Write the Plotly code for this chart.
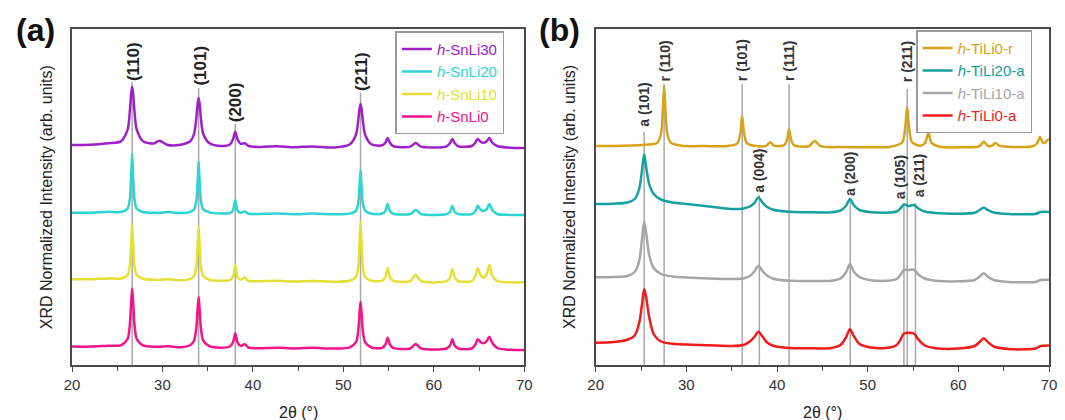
import plotly.graph_objects as go

# ---------------- Panel (a) data ----------------
two_theta_a = [20, 22, 24.0, 25.4, 26.15, 26.4, 26.53, 26.65, 26.77, 26.9, 27.15, 27.85,
               29.0, 29.65, 30.6, 32.0, 33.1, 33.5, 33.75, 33.88, 34.0, 34.12, 34.25, 34.5,
               35.2, 36.5, 37.45, 37.8, 38.05, 38.3, 38.65, 39.1, 39.5, 40.5, 42.7, 44.5,
               46.6, 49.0, 50.7, 51.4, 51.65, 51.78, 51.9, 52.02, 52.15, 52.4, 53.1, 54.3,
               54.65, 54.9, 55.15, 55.5, 57.4, 58.0, 58.6, 61.4, 61.8, 62.05, 62.3, 62.7,
               64.2, 64.6, 64.85, 65.2, 65.5, 65.85, 66.15, 66.45, 67.0, 68.5, 70.0]

snli30 = [220.0, 220.3, 221.8, 223.6, 235.6, 254.7, 270.4, 278.5, 270.4, 254.7, 235.6, 223.8,
          221.5, 224.3, 220.0, 220.3, 224.0, 231.5, 247.3, 260.3, 267.0, 260.3, 247.3, 231.5,
          221.7, 219.0, 220.5, 225.8, 233.3, 225.8, 221.2, 221.8, 219.2, 218.0, 218.8, 217.8,
          218.6, 217.6, 220.5, 230.5, 244.9, 255.8, 261.0, 255.8, 244.9, 230.5, 220.7, 219.7,
          222.3, 227.0, 222.3, 218.9, 218.4, 222.0, 218.4, 218.7, 222.0, 226.0, 222.0, 218.7,
          219.0, 222.5, 226.0, 223.0, 222.3, 223.8, 227.0, 222.5, 219.0, 217.2, 217.0]

snli20 = [152.3, 152.3, 153.3, 153.0, 156.6, 166.4, 186.1, 211.0, 186.1, 166.4, 156.6, 153.0,
          152.2, 152.1, 153.0, 152.0, 153.2, 155.7, 164.3, 181.5, 203.3, 181.5, 164.3, 155.7,
          152.6, 151.5, 151.9, 154.5, 165.0, 154.5, 152.1, 153.5, 151.3, 151.0, 151.6, 150.8,
          151.4, 150.7, 151.4, 154.4, 162.2, 177.7, 195.0, 177.7, 162.2, 154.4, 151.3, 151.4,
          154.0, 161.0, 154.0, 151.4, 151.0, 155.0, 151.0, 150.9, 153.2, 159.0, 153.2, 150.9,
          151.0, 153.8, 159.3, 155.0, 154.0, 155.8, 161.0, 155.0, 151.0, 150.1, 150.0]

snli10 = [85.7, 85.7, 86.6, 86.4, 90.1, 99.9, 119.4, 141.0, 119.4, 99.9, 90.1, 86.3,
          85.2, 85.1, 85.8, 84.8, 86.2, 89.2, 98.7, 117.5, 138.3, 117.5, 98.7, 89.2,
          85.3, 84.2, 84.8, 88.1, 100.0, 88.1, 85.2, 87.6, 84.2, 83.7, 84.2, 83.5,
          84.1, 83.3, 84.2, 88.3, 98.9, 119.9, 143.3, 119.9, 98.9, 88.3, 84.2, 84.3,
          87.8, 97.3, 87.8, 84.3, 83.8, 90.0, 83.8, 83.9, 87.3, 96.0, 87.3, 83.9,
          84.0, 89.0, 96.7, 89.5, 87.3, 90.5, 100.0, 89.5, 84.0, 82.7, 82.7]

snli0 = [18.5, 18.4, 19.3, 19.7, 26.3, 41.0, 61.2, 76.7, 61.2, 41.0, 26.3, 19.6,
         18.3, 18.2, 18.8, 17.8, 20.0, 24.6, 37.4, 54.9, 68.3, 54.9, 37.4, 24.6,
         18.8, 17.3, 18.5, 22.7, 31.7, 22.7, 19.1, 20.8, 17.5, 16.8, 17.3, 16.6,
         17.2, 16.5, 17.7, 22.9, 34.7, 50.9, 63.3, 50.9, 34.7, 22.9, 17.5, 17.2,
         20.5, 27.3, 20.5, 17.2, 16.5, 21.0, 16.5, 16.5, 19.5, 25.7, 19.5, 16.5,
         16.5, 20.5, 25.7, 22.8, 21.7, 24.0, 28.3, 22.5, 17.0, 15.2, 15.0]

peaks_a = [26.65, 34.0, 38.05, 51.9]
labels_a = ["(110)", "(101)", "(200)", "(211)"]

# ---------------- Panel (b) data ----------------
two_theta_r = [20, 23, 25.5, 26.8, 27.2, 27.4, 27.55, 27.7, 27.9, 28.3, 29.5, 32, 34.5,
               35.6, 35.95, 36.16, 36.35, 36.7, 37.5, 38.8, 39.26, 39.7, 40.8, 41.15, 41.33,
               41.5, 41.85, 43.5, 44.15, 44.8, 47, 50, 52.5, 53.8, 54.15, 54.35, 54.55, 54.9,
               55.8, 56.3, 56.7, 57.05, 58, 60.5, 62.3, 62.8, 63.3, 63.7, 64.1, 64.5, 66,
               68.3, 68.75, 69.0, 69.3, 69.55, 69.9, 70]

tili0_r = [219.0, 219.2, 220.2, 222.3, 231.2, 254.0, 279.2, 254.0, 231.2, 222.3, 219.3, 218.9, 219.1,
           221.4, 231.1, 249.0, 232.6, 221.6, 219.2, 219.2, 222.7, 219.2, 220.1, 226.8, 235.7,
           227.4, 220.1, 218.8, 224.0, 218.8, 217.9, 217.8, 218.3, 222.5, 238.1, 258.3, 238.1, 222.7,
           219.3, 221.7, 231.7, 222.1, 218.2, 217.8, 218.7, 223.3, 219.0, 219.3, 222.0, 219.3, 218.0,
           219.0, 222.6, 228.3, 222.5, 222.1, 225.5, 224.5]

two_theta_an = [20, 22, 23.5, 24.3, 24.8, 25.1, 25.35, 25.6, 25.9, 26.4, 27.2, 28.5, 30,
                32.5, 35, 36.3, 37.0, 37.5, 37.95, 38.4, 38.9, 39.7, 41, 43.5, 46, 47.0,
                47.6, 48.05, 48.5, 49.1, 50.2, 52, 53.2, 53.6, 54.0, 54.55, 55.1, 55.6, 56.3,
                57.5, 60, 61.8, 62.35, 62.8, 63.25, 63.9, 65.5, 67.5, 68.5, 69.1, 70]

tili20_a = [161.0, 161.3, 162.5, 166.0, 176.0, 194.0, 210.7, 196.0, 181.0, 171.0, 165.5, 162.5, 161.0,
            158.5, 156.0, 156.5, 158.5, 162.0, 167.5, 162.5, 158.0, 155.0, 153.5, 152.7, 152.7, 154.5,
            159.0, 166.0, 159.5, 155.0, 153.0, 152.3, 153.5, 156.5, 160.5, 159.0, 160.0, 156.5, 153.5,
            152.0, 151.3, 152.3, 155.0, 157.5, 155.0, 152.5, 151.0, 150.7, 151.0, 153.0, 153.0]

tili10_a = [87.7, 88.0, 89.0, 93.0, 104.0, 125.0, 143.3, 130.0, 110.0, 97.0, 91.0, 88.5, 87.5,
            86.5, 86.0, 86.5, 89.0, 93.5, 99.3, 94.0, 89.5, 86.0, 84.5, 84.0, 84.3, 86.5,
            92.5, 100.7, 93.0, 88.0, 85.0, 84.2, 86.0, 90.0, 95.0, 95.0, 95.3, 90.5, 86.5,
            84.3, 83.7, 85.0, 88.5, 91.7, 88.5, 85.0, 83.0, 82.7, 83.0, 85.0, 85.3]

tili0_a = [22.3, 23.0, 25.3, 29.5, 42.0, 60.0, 76.0, 66.0, 48.0, 31.0, 23.5, 21.3, 20.5,
           19.8, 19.0, 20.0, 23.5, 28.0, 33.3, 28.5, 22.5, 19.0, 17.3, 16.7, 17.0, 20.0,
           27.5, 35.7, 28.5, 21.0, 17.8, 17.0, 20.0, 25.0, 31.5, 32.3, 31.5, 25.5, 19.5,
           16.8, 16.5, 19.0, 23.0, 26.7, 23.0, 18.5, 16.0, 15.7, 16.5, 19.0, 19.5]

peaks_b = [25.35, 27.55, 36.16, 38.05, 41.33, 48.08, 54.0, 54.36, 55.27]
labels_b = ["a (101)", "r (110)", "r (101)", "a (004)", "r (111)", "a (200)", "a (105)", "r (211)", "a (211)"]

# ---------------- layout helpers (positions, not data) ----------------
line_top_a = [283, 277, 241, 272]
label_pos_a = [(26.75, 303), (34.1, 299), (38.05, 263), (51.95, 294)]
line_top_b = [233, 281, 281, 170, 281, 166, 162, 276, 162]
label_pos_b = [(25.3, 260), (27.6, 304), (36.16, 305), (38.0, 194), (41.33, 304),
               (48.05, 191), (53.6, 188), (54.36, 303), (55.7, 190)]

FONT = "Arial, Liberation Sans, sans-serif"
REF_COLOR = "#a9a9a9"
FRAME = "#4a4a4a"

fig = go.Figure()

# reference lines (drawn first, below the curves)
for p, top in zip(peaks_a, line_top_a):
    fig.add_trace(go.Scatter(x=[p, p], y=[0, top], mode="lines",
                             line=dict(color=REF_COLOR, width=1.5),
                             showlegend=False, hoverinfo="skip", xaxis="x", yaxis="y"))
for p, top in zip(peaks_b, line_top_b):
    fig.add_trace(go.Scatter(x=[p, p], y=[0, top], mode="lines",
                             line=dict(color=REF_COLOR, width=1.5),
                             showlegend=False, hoverinfo="skip", xaxis="x2", yaxis="y2"))

series_a = [("h-SnLi30", snli30, "#a020c8"), ("h-SnLi20", snli20, "#2ed3d3"),
            ("h-SnLi10", snli10, "#e4e035"), ("h-SnLi0", snli0, "#f3158b")]
for name, ys, col in series_a:
    label = f"<span style='color:{col}'><i>h</i>-{name[2:]}</span>"
    fig.add_trace(go.Scatter(x=two_theta_a, y=ys, mode="lines", name=label,
                             line=dict(color=col, width=2.5, shape="spline", smoothing=0.8),
                             xaxis="x", yaxis="y", legend="legend"))

series_b = [("h-TiLi0-r", two_theta_r, tili0_r, "#d6a31a"),
            ("h-TiLi20-a", two_theta_an, tili20_a, "#17a0a0"),
            ("h-TiLi10-a", two_theta_an, tili10_a, "#a6a6a6"),
            ("h-TiLi0-a", two_theta_an, tili0_a, "#f01c1c")]
for name, xs, ys, col in series_b:
    label = f"<span style='color:{col}'><i>h</i>-{name[2:]}</span>"
    fig.add_trace(go.Scatter(x=xs, y=ys, mode="lines", name=label,
                             line=dict(color=col, width=2.5, shape="spline", smoothing=0.8),
                             xaxis="x2", yaxis="y2", legend="legend2"))

annotations = []
for (lx, ly), txt in zip(label_pos_a, labels_a):
    annotations.append(dict(x=lx, y=ly, xref="x", yref="y", text=txt, showarrow=False,
                            textangle=-90, xanchor="center", yanchor="middle",
                            font=dict(family=FONT, size=17, color="#222", weight="bold")))
for (lx, ly), txt in zip(label_pos_b, labels_b):
    annotations.append(dict(x=lx, y=ly, xref="x2", yref="y2", text=txt, showarrow=False,
                            textangle=-90, xanchor="center", yanchor="middle",
                            font=dict(family=FONT, size=14, color="#333", weight="bold")))

# axis titles and panel tags
for xc in [0.2315, 0.768]:
    annotations.append(dict(x=xc, y=-0.14, xref="paper", yref="paper", text="2θ (°)",
                            showarrow=False, xanchor="center", yanchor="middle",
                            font=dict(family=FONT, size=16, color="#222")))
for xc in [-0.0264, 0.5086]:
    annotations.append(dict(x=xc, y=0.5, xref="paper", yref="paper",
                            text="XRD Normalized Intensity (arb. units)", textangle=-90,
                            showarrow=False, xanchor="center", yanchor="middle",
                            font=dict(family=FONT, size=16, color="#222")))
annotations.append(dict(x=-0.0376, y=0.997, xref="paper", yref="paper", text="(a)",
                        showarrow=False, xanchor="center", yanchor="middle",
                        font=dict(family=FONT, size=32, color="#111", weight="bold")))
annotations.append(dict(x=0.4985, y=0.997, xref="paper", yref="paper", text="(b)",
                        showarrow=False, xanchor="center", yanchor="middle",
                        font=dict(family=FONT, size=32, color="#111", weight="bold")))

xaxis_common = dict(range=[20, 70], dtick=10, tick0=20, ticks="outside", ticklen=5,
                    tickwidth=1.3, tickcolor=FRAME, showline=True, linecolor=FRAME,
                    linewidth=1.8, mirror=True, showgrid=False, zeroline=False,
                    tickfont=dict(family=FONT, size=15, color="#333"),
                    minor=dict(ticks="outside", dtick=5, ticklen=4, tickcolor=FRAME, tickwidth=1.3))
yaxis_common = dict(range=[0, 336], showticklabels=False, ticks="", showline=True,
                    linecolor=FRAME, linewidth=1.8, mirror=True, showgrid=False, zeroline=False)

legend_common = dict(xanchor="left", yanchor="top", bgcolor="white", bordercolor="#9a9a9a",
                     borderwidth=1.5, font=dict(family=FONT, size=15), tracegroupgap=0,
                     itemwidth=30, xref="paper", yref="paper")

fig.update_layout(
    width=1065, height=420,
    margin=dict(l=72, r=8, t=29, b=55),
    paper_bgcolor="white", plot_bgcolor="white",
    xaxis=dict(domain=[0, 0.4629], anchor="y", **xaxis_common),
    yaxis=dict(anchor="x", **yaxis_common),
    xaxis2=dict(domain=[0.536, 1], anchor="y2", **xaxis_common),
    yaxis2=dict(anchor="x2", **yaxis_common),
    legend=dict(x=0.331, y=0.993, **legend_common),
    legend2=dict(x=0.864, y=0.996, **legend_common),
    annotations=annotations,
    showlegend=True,
)

# place the figure at the page origin (no default body margin), no mode bar
fig.write_html("out.html", config={"displayModeBar": False},
               post_script="document.body.style.margin='0px';")
